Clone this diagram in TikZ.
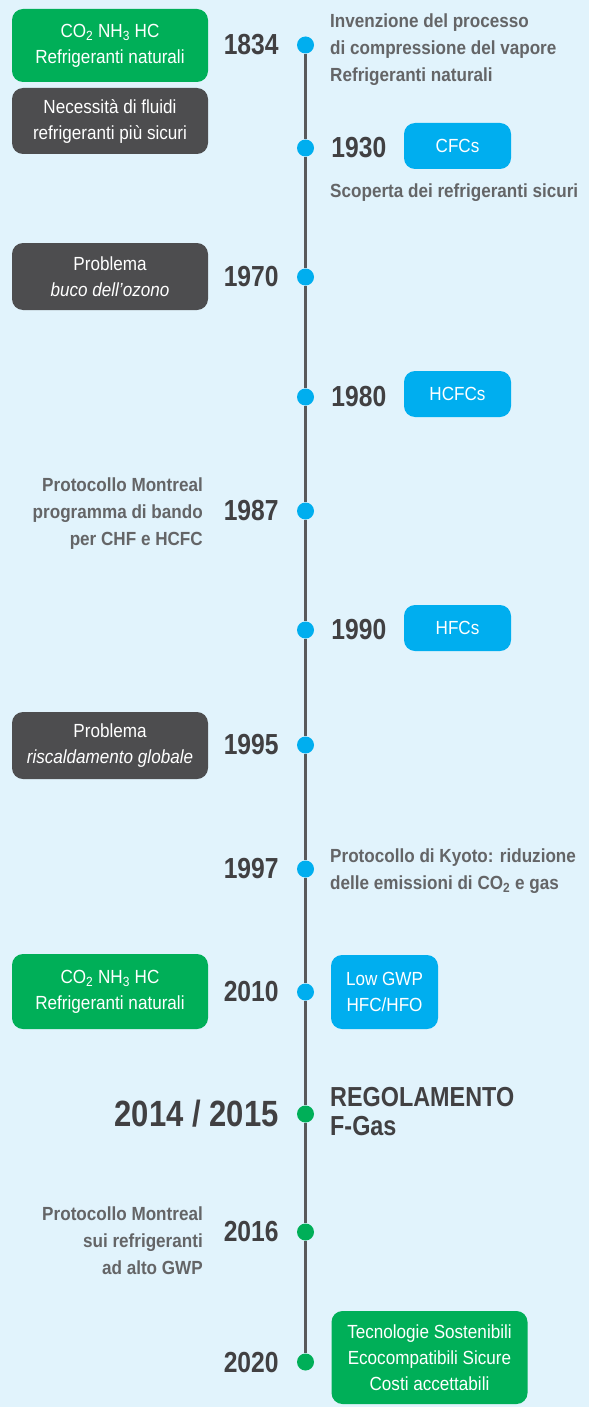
\documentclass[tikz,border=0pt]{standalone}
\usepackage{fontspec}
\setmainfont{Liberation Sans}[FakeStretch=0.9]
\newfontfamily\condensed{Liberation Sans}[FakeStretch=0.85]
\usetikzlibrary{positioning}
\definecolor{sky}{HTML}{E1F3FC}
\definecolor{cyanbox}{HTML}{00AEEF}
\definecolor{greenbox}{HTML}{00AF58}
\definecolor{slatebox}{HTML}{4D4D4F}
\definecolor{yeartext}{HTML}{414042}
\definecolor{notetext}{HTML}{646567}
\definecolor{axisline}{HTML}{58595B}
\tikzset{event dot/.style = {circle, inner sep=0pt, minimum size=17pt}}
\tikzset{year/.style = {inner sep=0pt, text=yeartext, font=\condensed\fontsize{29}{31}\selectfont\bfseries}}
\tikzset{note/.style = {inner sep=0pt, text=notetext, font=\fontsize{19}{27}\selectfont\bfseries}}
\tikzset{tag/.style = {rounded corners=11pt, inner sep=0pt, text=white, align=center, font=\fontsize{19}{26}\selectfont}}
\newcommand{\eventdot}[3]{
   \node[event dot, fill=#3] (d#1) at (305.5,#2) {};
}

\begin{document}
\begin{tikzpicture}[x=1pt, y=-1pt]
		% Background
		\fill[sky] (0,0) rectangle (589,1407);

		% Dots
		\eventdot{1834}{45}{cyanbox}
		\eventdot{1930}{148}{cyanbox}
		\eventdot{1970}{277}{cyanbox}
		\eventdot{1980}{397}{cyanbox}
		\eventdot{1987}{511}{cyanbox}
		\eventdot{1990}{630}{cyanbox}
		\eventdot{1995}{745}{cyanbox}
		\eventdot{1997}{869}{cyanbox}
		\eventdot{2010}{992}{cyanbox}
		\eventdot{2015}{1114}{greenbox}
		\eventdot{2016}{1232}{greenbox}
		\eventdot{2020}{1362}{greenbox}

		% Axis
		\foreach \a/\b in {1834/1930, 1930/1970, 1970/1980, 1980/1987, 1987/1990, 1990/1995, 1995/1997, 1997/2010, 2010/2015, 2015/2016, 2016/2020}
			\draw[axisline, line width=3pt] (d\a) -- (d\b);

		% Years
		\node[year, left=18pt of d1834] (y1834) {1834};
		\node[year, right=17pt of d1930] (y1930) {1930};
		\node[year, left=18pt of d1970] (y1970) {1970};
		\node[year, right=17pt of d1980] (y1980) {1980};
		\node[year, left=18pt of d1987] (y1987) {1987};
		\node[year, right=17pt of d1990] (y1990) {1990};
		\node[year, left=18pt of d1995] (y1995) {1995};
		\node[year, left=18pt of d1997] (y1997) {1997};
		\node[year, left=18pt of d2010] (y2010) {2010};
		\node[year, font=\condensed\fontsize{36.5}{38}\selectfont\bfseries, left=18pt of d2015] (y2015) {2014 / 2015};
		\node[year, left=18pt of d2016] (y2016) {2016};
		\node[year, left=18pt of d2020] (y2020) {2020};

		% Boxes
		%%left
		\node[tag, fill=greenbox, minimum width=196pt, minimum height=73pt] (b1834) at (110,45.5) {CO\textsubscript{2} NH\textsubscript{3} HC\\Refrigeranti naturali};
		\node[tag, fill=slatebox, minimum width=196pt, minimum height=66pt] (b1834s) at (110,121) {Necessità di fluidi\\refrigeranti più sicuri};
		\node[tag, fill=slatebox, minimum width=196pt, minimum height=67pt] (b1970) at (110,276.5) {Problema\\\textit{buco dell’ozono}};
		\node[tag, fill=slatebox, minimum width=196pt, minimum height=67pt] (b1995) at (110,745.5) {Problema\\\textit{riscaldamento globale}};
		\node[tag, fill=greenbox, minimum width=196pt, minimum height=75pt] (b2010) at (110,991.5) {CO\textsubscript{2} NH\textsubscript{3} HC\\Refrigeranti naturali};
		%%right
		\node[tag, fill=cyanbox, minimum width=107pt, minimum height=46pt] (b1930) at (457.5,146) {CFCs};
		\node[tag, fill=cyanbox, minimum width=107pt, minimum height=46pt] (b1980) at (457.5,394) {HCFCs};
		\node[tag, fill=cyanbox, minimum width=107pt, minimum height=46pt] (b1990) at (457.5,628) {HFCs};
		\node[tag, fill=cyanbox, minimum width=107pt, minimum height=74pt] (b2010r) at (384.5,992) {Low GWP\\HFC/HFO};
		\node[tag, fill=greenbox, minimum width=196pt, minimum height=93pt] (b2020) at (429.5,1357.5) {Tecnologie Sostenibili\\Ecocompatibili Sicure\\Costi accettabili};

		% Notes
		\node[note, anchor=west, align=left] (n1834) at (330,50) {Invenzione del processo\\di compressione del vapore\\Refrigeranti naturali};
		\node[note, anchor=west] (n1930) at (330,193) {Scoperta dei refrigeranti sicuri};
		\node[note, anchor=east, align=right] (n1987) at (203,514) {Protocollo Montreal\\programma di bando\\per CHF e HCFC};
		\node[note, anchor=west, align=left] (n1997) at (330,871) {Protocollo di Kyoto: riduzione\\delle emissioni di CO\textsubscript{2} e gas};
		\node[note, anchor=west, align=left, text=yeartext, font=\condensed\fontsize{27.5}{29}\selectfont\bfseries] (n2015) at (330,1112) {REGOLAMENTO\\F-Gas};
		\node[note, anchor=east, align=right] (n2016) at (203,1241) {Protocollo Montreal\\sui refrigeranti\\ad alto GWP};
	\end{tikzpicture}
\end{document}
